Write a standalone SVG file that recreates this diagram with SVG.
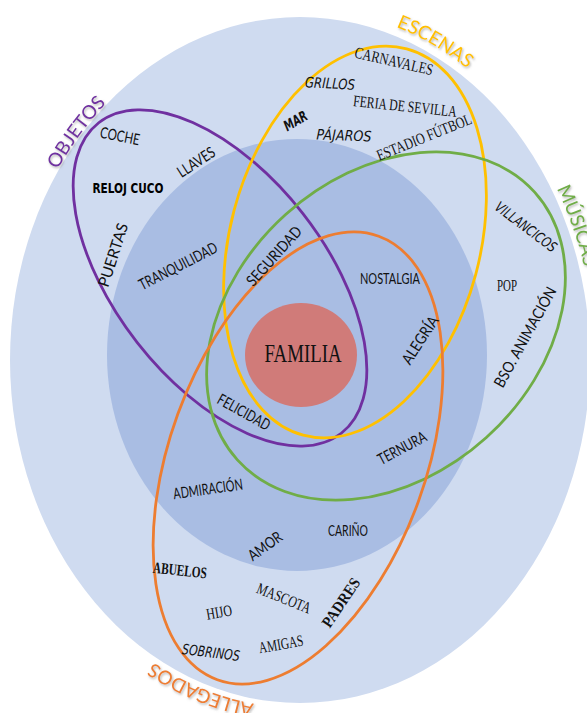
<svg xmlns="http://www.w3.org/2000/svg" width="587" height="713" viewBox="0 0 587 713">
<defs>
<filter id="sh" x="-20%" y="-20%" width="140%" height="140%">
<feDropShadow dx="1" dy="1.5" stdDeviation="1" flood-color="#777" flood-opacity="0.55"/>
</filter>
<path id="pObj" d="M 26.5 242.4 A 291 344 0 0 1 167.9 53.5"/>
<path id="pEsc" d="M 326 9.3 A 298 352 0 0 1 518 119.9"/>
<path id="pMus" d="M 556.8 188.6 A 295 348 0 0 1 577.2 479"/>
<path id="pAll" d="M 330 706 A 295 348 0 0 1 96 612"/>
</defs>
<style>
.set{fill:none;stroke-width:2.8}
.cat{font-family:Lato,"Liberation Sans",sans-serif;font-size:19px}
.sn{font-family:Lato,"Liberation Sans",sans-serif;font-size:15.5px;fill:#111;text-anchor:middle}
.sf{font-family:"Liberation Serif",serif;font-size:16px;fill:#111;text-anchor:middle}
.it{font-family:"DejaVu Sans",sans-serif;font-style:italic;font-size:14.5px;fill:#111;text-anchor:middle}
.dec{font-family:"DejaVu Sans",sans-serif;font-weight:bold;font-size:14px;fill:#000;text-anchor:middle}
</style>
<g id="rings">
<ellipse cx="300" cy="360" rx="290" ry="343" fill="#cfdbf0"/>
<ellipse cx="297" cy="355" rx="190" ry="216" fill="#a9bde3"/>
</g>
<g id="familia">
<ellipse cx="301" cy="355" rx="56" ry="52" fill="#d07b79"/>
<text x="303" y="362" font-family="Liberation Serif,serif" font-size="26" text-anchor="middle" textLength="77" lengthAdjust="spacingAndGlyphs" fill="#111">FAMILIA</text>
</g>
<g id="objetos">
<ellipse class="set" cx="0" cy="0" rx="197" ry="105" transform="translate(220 278) rotate(52)" stroke="#7030a0"/>
<text class="cat" fill="#7030a0" filter="url(#sh)"><textPath href="#pObj" startOffset="50%" text-anchor="middle">OBJETOS</textPath></text>
</g>
<g id="escenas">
<ellipse class="set" cx="0" cy="0" rx="200" ry="125" transform="translate(355 242) rotate(-75)" stroke="#ffc000"/>
<text class="cat" fill="#ffc000" filter="url(#sh)"><textPath href="#pEsc" startOffset="50%" text-anchor="middle">ESCENAS</textPath></text>
</g>
<g id="musicas">
<ellipse class="set" cx="0" cy="0" rx="200" ry="150" transform="translate(386 326) rotate(-42)" stroke="#70ad47"/>
<text class="cat" fill="#70ad47" filter="url(#sh)"><textPath href="#pMus" startOffset="0">MÚSICAS</textPath></text>
</g>
<g id="allegados">
<ellipse class="set" cx="0" cy="0" rx="236" ry="128" transform="translate(298 458) rotate(-70)" stroke="#ed7d31"/>
<text class="cat" fill="#ed7d31" font-size="18" filter="url(#sh)"><textPath href="#pAll" startOffset="50%" text-anchor="middle">ALLEGADOS</textPath></text>
</g>
<g id="words">
<text class="sn" transform="translate(120 136) rotate(11)" y="5.5" textLength="40" lengthAdjust="spacingAndGlyphs">COCHE</text>
<text class="sn" transform="translate(196 162) rotate(-33)" y="5.5" textLength="42" lengthAdjust="spacingAndGlyphs">LLAVES</text>
<text class="dec" transform="translate(128 187)" y="5.5" textLength="71" lengthAdjust="spacingAndGlyphs">RELOJ CUCO</text>
<text class="sn" transform="translate(113 255) rotate(-72)" y="5.5" textLength="66" lengthAdjust="spacingAndGlyphs">PUERTAS</text>
<text class="sn" transform="translate(178 266) rotate(-27)" y="5.5" textLength="86" lengthAdjust="spacingAndGlyphs">TRANQUILIDAD</text>
<text class="sn" transform="translate(274 256) rotate(-48)" y="5.5" textLength="74" lengthAdjust="spacingAndGlyphs">SEGURIDAD</text>
<text class="sn" transform="translate(390 278)" y="5.5" textLength="60" lengthAdjust="spacingAndGlyphs">NOSTALGIA</text>
<text class="sn" transform="translate(420 340) rotate(-57)" y="5.5" textLength="54" lengthAdjust="spacingAndGlyphs">ALEGRÍA</text>
<text class="sn" transform="translate(244 412) rotate(29)" y="5.5" textLength="58" lengthAdjust="spacingAndGlyphs">FELICIDAD</text>
<text class="sn" transform="translate(402 448) rotate(-28)" y="5.5" textLength="53" lengthAdjust="spacingAndGlyphs">TERNURA</text>
<text class="sn" transform="translate(208 489) rotate(-8)" y="5.5" textLength="70" lengthAdjust="spacingAndGlyphs">ADMIRACIÓN</text>
<text class="sn" transform="translate(265 546) rotate(-36)" y="5.5" textLength="38" lengthAdjust="spacingAndGlyphs">AMOR</text>
<text class="sn" transform="translate(348 530)" y="5.5" textLength="40" lengthAdjust="spacingAndGlyphs">CARIÑO</text>
<text class="sn" transform="translate(525 337) rotate(-61)" y="5.5" textLength="112" lengthAdjust="spacingAndGlyphs">BSO. ANIMACIÓN</text>
<text class="sf" transform="translate(394 61) rotate(13)" y="5.5" textLength="80" lengthAdjust="spacingAndGlyphs">CARNAVALES</text>
<text class="sf" transform="translate(405 106) rotate(6)" y="5.5" textLength="104" lengthAdjust="spacingAndGlyphs">FERIA DE SEVILLA</text>
<text class="sf" transform="translate(424 137) rotate(-22)" y="5.5" textLength="101" lengthAdjust="spacingAndGlyphs">ESTADIO FÚTBOL</text>
<text class="sf" transform="translate(507 285)" y="5.5" textLength="20" lengthAdjust="spacingAndGlyphs">POP</text>
<text class="sf" transform="translate(284 598) rotate(22)" y="5.5" textLength="57" lengthAdjust="spacingAndGlyphs">MASCOTA</text>
<text class="sf" transform="translate(219 612) rotate(-10)" y="5.5" textLength="26" lengthAdjust="spacingAndGlyphs">HIJO</text>
<text class="sf" transform="translate(281 644) rotate(-10)" y="5.5" textLength="45" lengthAdjust="spacingAndGlyphs">AMIGAS</text>
<text class="sf" font-weight="bold" transform="translate(180 570) rotate(6)" y="5.5" textLength="54" lengthAdjust="spacingAndGlyphs">ABUELOS</text>
<text class="sf" font-weight="bold" font-size="19" transform="translate(340 602) rotate(-56)" y="6.5" textLength="56" lengthAdjust="spacingAndGlyphs">PADRES</text>
<text class="it" transform="translate(330 83) rotate(3)" y="5.5" textLength="50" lengthAdjust="spacingAndGlyphs">GRILLOS</text>
<text class="it" transform="translate(344 135) rotate(2)" y="5.5" textLength="55" lengthAdjust="spacingAndGlyphs">PÁJAROS</text>
<text class="it" transform="translate(211 652) rotate(7)" y="5.5" textLength="58" lengthAdjust="spacingAndGlyphs">SOBRINOS</text>
<text class="it" transform="translate(526 227) rotate(37)" y="5" textLength="73" lengthAdjust="spacingAndGlyphs">VILLANCICOS</text>
<text class="it" font-weight="bold" font-size="16" transform="translate(295 120) rotate(-30)" y="6" textLength="25" lengthAdjust="spacingAndGlyphs">MAR</text>
</g>
</svg>
